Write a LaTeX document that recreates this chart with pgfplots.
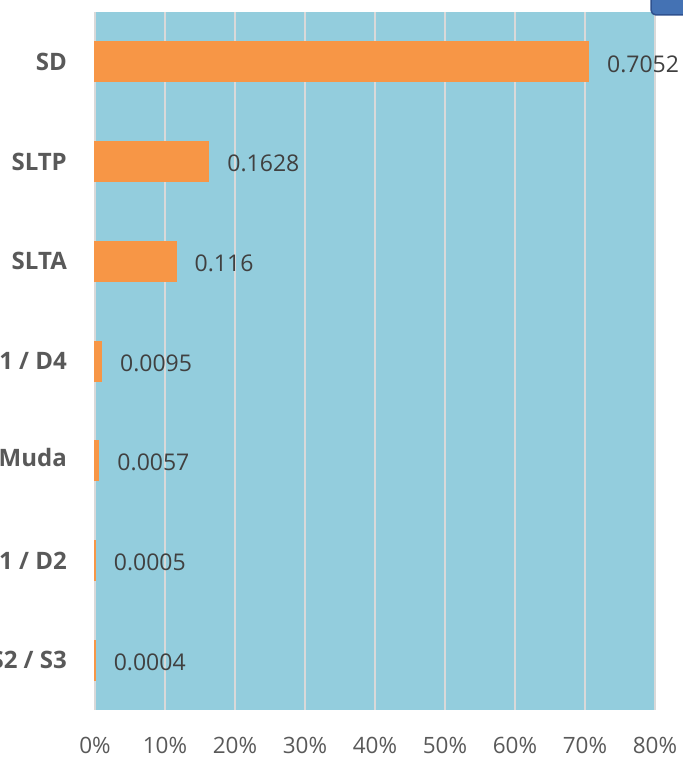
\documentclass[border=0pt]{standalone}
\usepackage{pgfplots}
\pgfplotsset{compat=1.18}
\usepackage{fontspec}
\setmainfont{Open Sans}
\definecolor{bgblue}{HTML}{93CDDD}
\definecolor{barorange}{HTML}{F79646}
\definecolor{gridgray}{HTML}{D9D9D9}
\definecolor{labgray}{HTML}{595959}
\definecolor{valgray}{HTML}{404040}
\definecolor{shapeblue}{HTML}{4472B4}
\definecolor{shapeedge}{HTML}{2F528F}
\begin{document}
\begin{tikzpicture}[x=1pt,y=1pt]
\begin{axis}[
 name=ax, at={(0,0)}, anchor=south west,
 scale only axis, width=560pt, height=698pt,
 xbar, bar width=40pt,
 xmin=0, xmax=0.8, ymin=-0.5, ymax=6.5,
 y dir=reverse,
 ytick={0,1,2,3,4,5,6},
 yticklabels={SD,SLTP,SLTA,S1 / D4,D3 / Sarjana Muda,D1 / D2,S2 / S3},
 xtick={0,0.1,0.2,0.3,0.4,0.5,0.6,0.7,0.8},
 xticklabels={0\%,10\%,20\%,30\%,40\%,50\%,60\%,70\%,80\%},
 axis line style={draw=none},
 axis background/.style={fill=bgblue},
 xmajorgrids, ymajorgrids=false,
 major grid style={draw=gridgray, line width=2.5pt},
 major tick length=0pt,
 tick style={draw=none},
 tick label style={font=\fontsize{22.5}{26}\selectfont, text=labgray},
 yticklabel style={font=\fontsize{24}{28}\selectfont\bfseries, inner sep=0pt, xshift=-28pt},
 xticklabel style={inner sep=0pt, yshift=-27pt},
 nodes near coords={\pgfplotspointmeta},
 point meta=explicit symbolic,
 every node near coord/.append style={anchor=west, inner sep=0pt, xshift=18pt, yshift=-2pt, font=\fontsize{23}{27}\selectfont, text=valgray},
 /pgf/number format/assume math mode=true,
 clip=false,
]
\addplot[fill=barorange, draw=barorange, line width=1pt] coordinates {
 (0.7052,0)[0.7052]
 (0.1628,1)[0.1628]
 (0.116,2)[0.116]
 (0.0095,3)[0.0095]
 (0.0057,4)[0.0057]
 (0.0005,5)[0.0005]
 (0.0004,6)[0.0004]
};
\end{axis}
\filldraw[fill=shapeblue, draw=shapeedge, line width=1.5pt, rounded corners=5pt] (556,695) rectangle (640,740);
\pgfresetboundingbox
\path[use as bounding box] (-95,-48) rectangle (588,710);
\end{tikzpicture}
\end{document}
